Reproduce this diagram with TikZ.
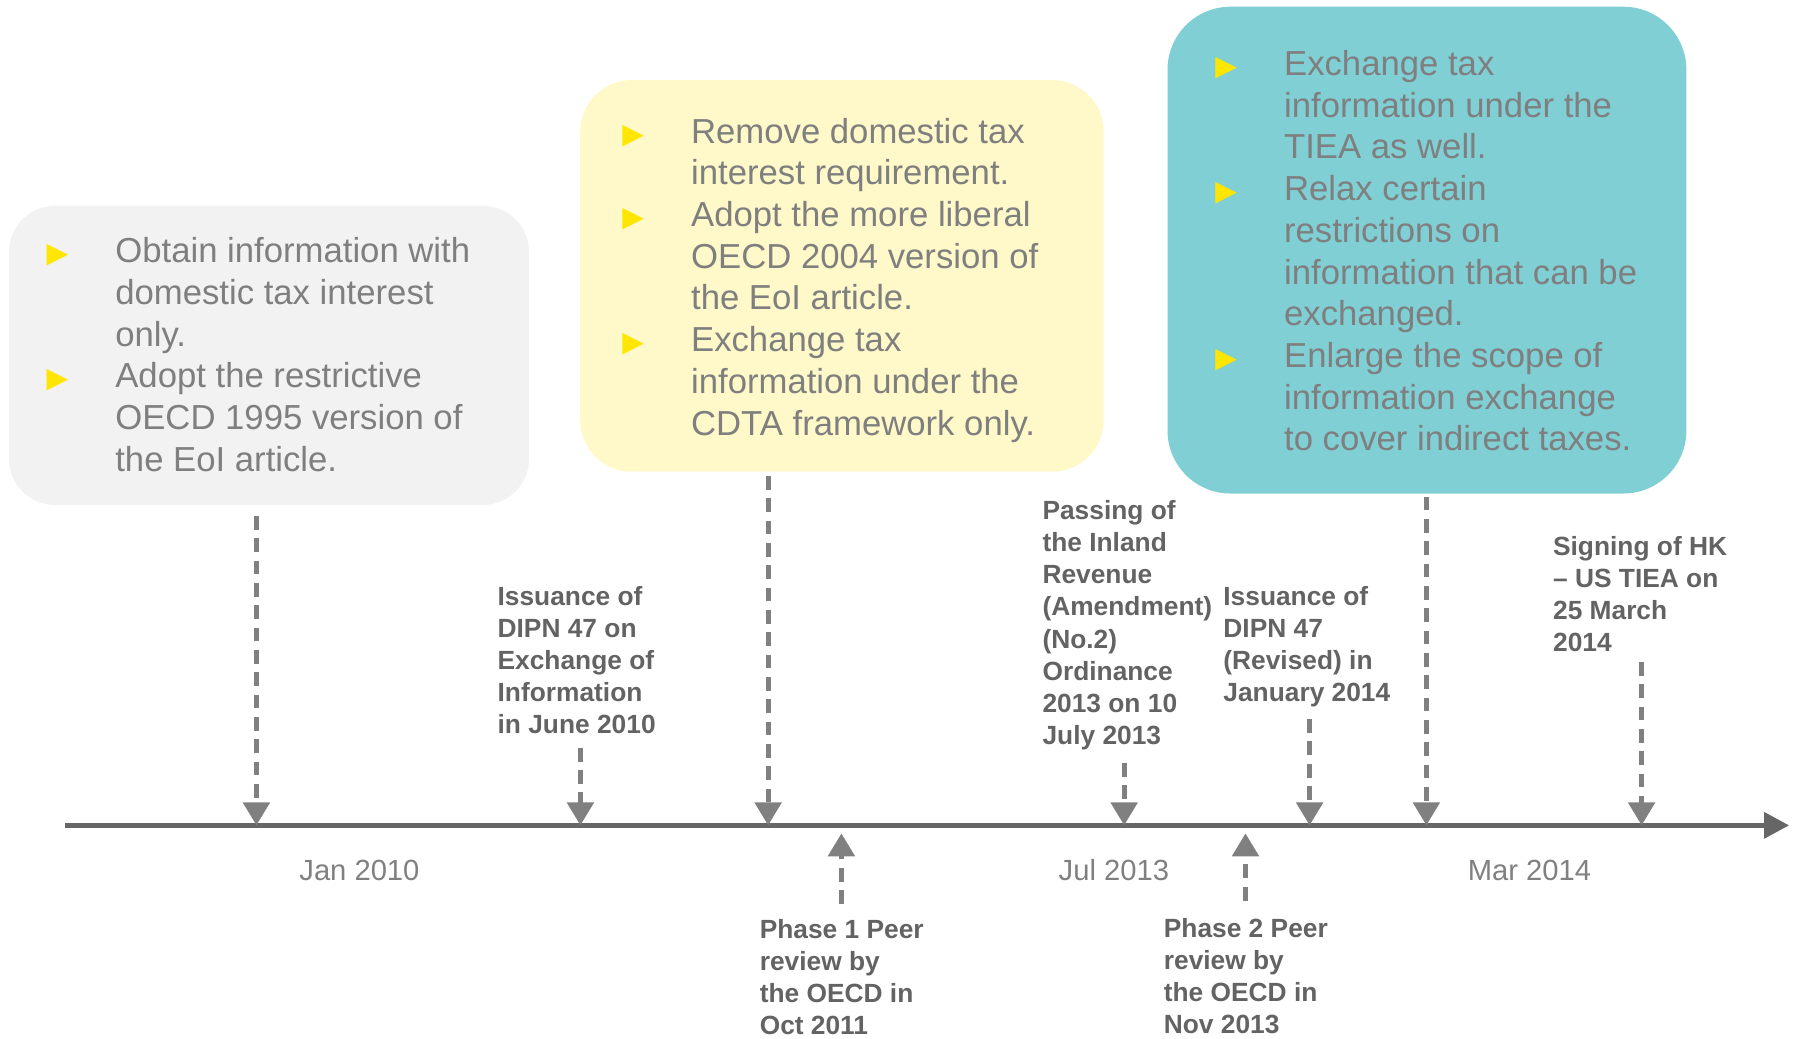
\documentclass[tikz,border=0pt]{standalone}
\usepackage{fontspec}
\setmainfont{Liberation Sans}
\newfontfamily\symfont{DejaVu Sans}
\usetikzlibrary{arrows.meta}

\definecolor{boxgray}{HTML}{F2F2F2}
\definecolor{boxyellow}{HTML}{FFF9C9}
\definecolor{boxteal}{HTML}{7FCFD4}
\definecolor{bullety}{HTML}{FFE600}
\definecolor{txtgray}{HTML}{7F7F7F}
\definecolor{lblgray}{HTML}{636363}
\definecolor{axisgray}{HTML}{666666}
\definecolor{arrgray}{HTML}{808080}

\newcommand{\bul}{\makebox[0.6cm][l]{\symfont\fontsize{7}{7}\selectfont\color{bullety}▶}}
\newcommand{\boxfont}{\fontsize{8.62}{10.36}\selectfont}
\newcommand{\lblfont}{\fontsize{6.54}{7.97}\selectfont\bfseries}

\begin{document}
\begin{tikzpicture}[x=0.01cm, y=-0.01cm,
    tlbox/.style={rectangle, inner sep=0pt, draw=none},
    boxtext/.style={anchor=base west, inner sep=0pt, text=txtgray, font=\boxfont},
    lbl/.style={anchor=base west, inner sep=0pt, text=lblgray, font=\lblfont},
    axislbl/.style={inner sep=0pt, text=arrgray, font=\fontsize{7.25}{8.7}\selectfont},
    axisline/.style={draw=axisgray, line width=1.4pt, -{Triangle[width=0.22cm,length=0.22cm]}},
    evarrow/.style={draw=arrgray, line width=1.25pt, dash pattern=on 0.12cm off 0.075cm,
        -{Triangle[width=0.227cm,length=0.2cm]}}]
    \useasboundingbox (0,0) rectangle (1568,907);

    % boxes
    \node[tlbox, fill=boxgray, rounded corners=0.4cm, minimum width=4.54cm, minimum height=2.61cm] (oldbox) at (235,310.5) {};
    \node[tlbox, fill=boxyellow, rounded corners=0.45cm, minimum width=4.57cm, minimum height=3.42cm] (cdtabox) at (735.5,241) {};
    \node[tlbox, fill=boxteal, rounded corners=0.55cm, minimum width=4.53cm, minimum height=4.25cm] (tieabox) at (1246.5,218.5) {};

    \node[boxtext] (oldtext) at (40,229.5) {\begin{tabular}[t]{@{}l@{}l@{}}
        \bul & Obtain information with\\
             & domestic tax interest\\
             & only.\\
        \bul & Adopt the restrictive\\
             & OECD 1995 version of\\
             & the EoI article.
        \end{tabular}};
    \node[boxtext] (cdtatext) at (543,125) {\begin{tabular}[t]{@{}l@{}l@{}}
        \bul & Remove domestic tax\\
             & interest requirement.\\
        \bul & Adopt the more liberal\\
             & OECD 2004 version of\\
             & the EoI article.\\
        \bul & Exchange tax\\
             & information under the\\
             & CDTA framework only.
        \end{tabular}};
    \node[boxtext] (tieatext) at (1061,66) {\begin{tabular}[t]{@{}l@{}l@{}}
        \bul & Exchange tax\\
             & information under the\\
             & TIEA as well.\\
        \bul & Relax certain\\
             & restrictions on\\
             & information that can be\\
             & exchanged.\\
        \bul & Enlarge the scope of\\
             & information exchange\\
             & to cover indirect taxes.
        \end{tabular}};

    % event labels
    \node[lbl] (dipnold) at (434,529) {\begin{tabular}[t]{@{}l@{}}
        Issuance of\\ DIPN 47 on\\ Exchange of\\ Information\\ in June 2010\end{tabular}};
    \node[lbl] (ordinance) at (910,454) {\begin{tabular}[t]{@{}l@{}}
        Passing of\\ the Inland\\ Revenue\\ (Amendment)\\ (No.2)\\ Ordinance\\ 2013 on 10\\ July 2013\end{tabular}};
    \node[lbl] (dipnnew) at (1068,529) {\begin{tabular}[t]{@{}l@{}}
        Issuance of\\ DIPN 47\\ (Revised) in\\ January 2014\end{tabular}};
    \node[lbl] (signing) at (1356,485) {\begin{tabular}[t]{@{}l@{}}
        Signing of HK\\ -- US TIEA on\\ 25 March\\ 2014\end{tabular}};
    \node[lbl] (phaseone) at (663,820) {\begin{tabular}[t]{@{}l@{}}
        Phase 1 Peer\\ review by\\ the OECD in\\ Oct 2011\end{tabular}};
    \node[lbl] (phasetwo) at (1016,819) {\begin{tabular}[t]{@{}l@{}}
        Phase 2 Peer\\ review by\\ the OECD in\\ Nov 2013\end{tabular}};

    % timeline
    \coordinate (axisstart) at (57,721);
    \coordinate (axisend) at (1563,721);
    \draw[axisline] (axisstart) -- (axisend);

    \coordinate (t1) at (224,721);
    \coordinate (t2) at (507,721);
    \coordinate (t3) at (671,721);
    \coordinate (t4) at (735,728);
    \coordinate (t5) at (982,721);
    \coordinate (t6) at (1088,728);
    \coordinate (t7) at (1144,721);
    \coordinate (t8) at (1246,721);
    \coordinate (t9) at (1434,721);

    \node[axislbl] (jan) at (314,760) {Jan 2010};
    \node[axislbl] (jul) at (973,760) {Jul 2013};
    \node[axislbl] (mar) at (1336,760) {Mar 2014};

    \draw[evarrow, shorten <=0.09cm] (oldbox.south -| t1) -- (t1);
    \draw[evarrow, shorten <=0.03cm] (dipnold.south -| t2) -- (t2);
    \draw[evarrow, shorten <=0.03cm] (cdtabox.south -| t3) -- (t3);
    \draw[evarrow, shorten <=0.1cm] (phaseone.north -| t4) -- (t4);
    \draw[evarrow, shorten <=0.07cm] (ordinance.south -| t5) -- (t5);
    \draw[evarrow, shorten <=0.12cm] (phasetwo.north -| t6) -- (t6);
    \draw[evarrow, shorten <=0.06cm] (dipnnew.south -| t7) -- (t7);
    \draw[evarrow, shorten <=0.02cm] (tieabox.south -| t8) -- (t8);
    \draw[evarrow] (signing.south -| t9) -- (t9);
\end{tikzpicture}
\end{document}
